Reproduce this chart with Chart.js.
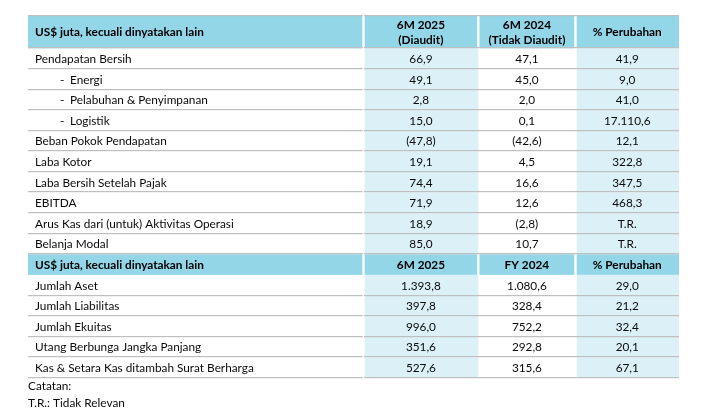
<!DOCTYPE html>
<html>
<head>
<meta charset="utf-8">
<style>
  html, body { margin: 0; padding: 0; background: #ffffff; }
  #wrap { width: 702px; height: 417px; }
</style>
<script src="https://cdn.jsdelivr.net/npm/chart.js@4.4.1/dist/chart.umd.min.js"></script>
</head>
<body>
<div id="wrap"><canvas id="c" width="702" height="417"></canvas></div>
<script>
// ---------------- DATA ----------------
const headerTitle = 'US$ juta, kecuali dinyatakan lain';

const incomeHeaders = [['6M 2025', '(Diaudit)'], ['6M 2024', '(Tidak Diaudit)'], ['% Perubahan']];
const incomeLabels = [
  'Pendapatan Bersih', 'Energi', 'Pelabuhan & Penyimpanan', 'Logistik',
  'Beban Pokok Pendapatan', 'Laba Kotor', 'Laba Bersih Setelah Pajak', 'EBITDA',
  'Arus Kas dari (untuk) Aktivitas Operasi', 'Belanja Modal'
];
const incomeSubItem = [false, true, true, true, false, false, false, false, false, false];
const income6M2025 = [66.9, 49.1, 2.8, 15.0, -47.8, 19.1, 74.4, 71.9, 18.9, 85.0];
const income6M2024 = [47.1, 45.0, 2.0, 0.1, -42.6, 4.5, 16.6, 12.6, -2.8, 10.7];
const incomeChange = [41.9, 9.0, 41.0, 17110.6, 12.1, 322.8, 347.5, 468.3, null, null];

const balanceHeaders = [['6M 2025'], ['FY 2024'], ['% Perubahan']];
const balanceLabels = [
  'Jumlah Aset', 'Jumlah Liabilitas', 'Jumlah Ekuitas',
  'Utang Berbunga Jangka Panjang', 'Kas & Setara Kas ditambah Surat Berharga'
];
const balance6M2025 = [1393.8, 397.8, 996.0, 351.6, 527.6];
const balanceFY2024 = [1080.6, 328.4, 752.2, 292.8, 315.6];
const balanceChange = [29.0, 21.2, 32.4, 20.1, 67.1];

const notes = ['Catatan:', 'T.R.: Tidak Relevan'];

// ---------------- LAYOUT / STYLE ----------------
const TABLE_W = 651, TABLE_H = 362;
const COL_EDGES = [0, 335.5, 450.3, 547.5, 651];
const HEADER1_H = 32.3, ROW_H = 20.6;
const NOTE_Y = [370.6, 387.2];
const C_HEAD = '#93d6e7', C_LIGHT = '#dbf1f7', C_LINE = '#bfbfbf', C_TEXT = '#0a0a0a';
const FONT = 'Lato, "Open Sans", sans-serif';
const FS = 11.8;

function fmtNum(v) {
  if (v === null || v === undefined) return 'T.R.';
  const neg = v < 0;
  const a = Math.abs(v);
  const fixed = a.toFixed(1);
  let [ip, dp] = fixed.split('.');
  ip = ip.replace(/\B(?=(\d{3})+(?!\d))/g, '.');
  const s = ip + ',' + dp;
  return neg ? '(' + s + ')' : s;
}

// Build row model
const rows = [];
rows.push({ type: 'header', h: HEADER1_H, label: headerTitle, cols: incomeHeaders, lineBelow: true });
incomeLabels.forEach((l, i) => rows.push({ type: 'data', h: ROW_H, label: l, sub: incomeSubItem[i],
  vals: [income6M2025[i], income6M2024[i], incomeChange[i]] }));
rows.push({ type: 'header', h: ROW_H, label: headerTitle, cols: balanceHeaders, lineBelow: false });
balanceLabels.forEach((l, i) => rows.push({ type: 'data', h: ROW_H, label: l, sub: false,
  vals: [balance6M2025[i], balanceFY2024[i], balanceChange[i]] }));

const tablePlugin = {
  id: 'tablePlugin',
  afterDraw(chart) {
    const ctx = chart.ctx;
    const xs = chart.scales.x, ys = chart.scales.y;
    const X = v => xs.getPixelForValue(v);
    const Y = v => ys.getPixelForValue(v);
    ctx.save();
    let y0 = 0;
    const bounds = [];
    rows.forEach(r => { bounds.push([y0, y0 + r.h]); y0 += r.h; });

    // backgrounds
    rows.forEach((r, ri) => {
      const top = Y(bounds[ri][0]), bot = Y(bounds[ri][1]);
      if (r.type === 'header') {
        ctx.fillStyle = C_HEAD;
        for (let c = 0; c < 4; c++) {
          const l = X(COL_EDGES[c]) + (c === 0 ? 0 : 1.2);
          const rr = X(COL_EDGES[c + 1]) - (c === 3 ? 0 : 1.2);
          ctx.fillRect(l, top, rr - l, bot - top);
        }
      } else {
        ctx.fillStyle = C_LIGHT;
        [1, 3].forEach(c => {
          const l = X(COL_EDGES[c]) + 1.2;
          const rr = X(COL_EDGES[c + 1]);
          ctx.fillRect(l, top, rr - l, bot - top);
        });
      }
    });

    // lines
    ctx.fillStyle = C_LINE;
    const hline = (yv) => {
      const py = Math.round(Y(yv)) - 0.5;
      ctx.fillRect(X(0), py - 0.5, X(COL_EDGES[1]) - X(0) - 0.8, 1.2);
      ctx.fillRect(X(COL_EDGES[1]) + 0.6, py - 0.5, X(TABLE_W) - X(COL_EDGES[1]) - 0.6, 1.2);
    };
    hline(0);
    rows.forEach((r, ri) => {
      if (r.type === 'header' && !r.lineBelow) return;
      hline(bounds[ri][1]);
    });

    // text
    ctx.textBaseline = 'middle';
    rows.forEach((r, ri) => {
      const top = bounds[ri][0], bot = bounds[ri][1];
      const mid = Y((top + bot) / 2) + 0.5;
      if (r.type === 'header') {
        ctx.fillStyle = '#000000';
        ctx.font = 'bold ' + FS + 'px ' + FONT;
        ctx.textAlign = 'left';
        ctx.fillText(r.label, X(7), mid);
        ctx.textAlign = 'center';
        r.cols.forEach((lines, c) => {
          const cx = (X(COL_EDGES[c + 1]) + X(COL_EDGES[c + 2])) / 2;
          if (lines.length === 1) {
            ctx.fillText(lines[0], cx, mid);
          } else {
            ctx.fillText(lines[0], cx, mid - 7.6);
            ctx.fillText(lines[1], cx, mid + 7.6);
          }
        });
      } else {
        ctx.fillStyle = C_TEXT;
        ctx.font = FS + 'px ' + FONT;
        ctx.textAlign = 'left';
        if (r.sub) {
          ctx.fillText('-', X(32), mid);
          ctx.fillText(r.label, X(42), mid);
        } else {
          ctx.fillText(r.label, X(7), mid);
        }
        ctx.textAlign = 'center';
        r.vals.forEach((v, c) => {
          const cx = (X(COL_EDGES[c + 1]) + X(COL_EDGES[c + 2])) / 2;
          ctx.fillText(fmtNum(v), cx, mid);
        });
      }
    });

    // notes
    ctx.fillStyle = C_TEXT;
    ctx.font = FS + 'px ' + FONT;
    ctx.textAlign = 'left';
    notes.forEach((n, i) => ctx.fillText(n, X(0), Y(NOTE_Y[i])));
    ctx.restore();
  }
};

new Chart(document.getElementById('c'), {
  type: 'scatter',
  data: { datasets: [{ data: [], pointRadius: 0 }] },
  options: {
    responsive: false,
    animation: false,
    devicePixelRatio: 1,
    layout: { padding: { left: 28, right: 23, top: 16, bottom: 39 } },
    plugins: { legend: { display: false }, tooltip: { enabled: false } },
    scales: {
      x: { type: 'linear', min: 0, max: TABLE_W, display: false },
      y: { type: 'linear', min: 0, max: TABLE_H, reverse: true, display: false }
    }
  },
  plugins: [tablePlugin]
});
</script>
</body>
</html>
